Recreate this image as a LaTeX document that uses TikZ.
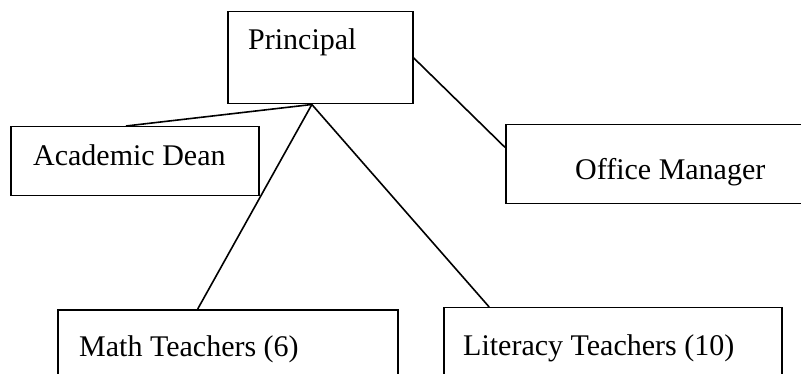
\documentclass[tikz,border=0pt]{standalone}
\usepackage{fontspec}
\setmainfont{Liberation Serif}
\usetikzlibrary{calc}
\begin{document}
\begin{tikzpicture}[x=1pt,y=-1pt,
  box/.style={draw=black,line width=1.5pt,rectangle,inner sep=0pt,anchor=north west},
  lbl/.style={anchor=base west,inner sep=0pt,font=\fontsize{30}{36}\selectfont},
  link/.style={draw=black,line width=1.6pt}]
  \clip (0,0) rectangle (801,374);
  \fill[white] (0,0) rectangle (801,374);

  % boxes (width and height set explicitly, top-left placed)
  \node[box,minimum width=185pt,minimum height=92pt] (principal) at (227,11) {};
  \node[box,minimum width=248pt,minimum height=69pt] (dean) at (10,126) {};
  \node[box,minimum width=300pt,minimum height=79pt] (office) at (505,124) {};
  \node[box,minimum width=340pt,minimum height=80pt] (math) at (57,309) {};
  \node[box,minimum width=338pt,minimum height=80pt] (literacy) at (443,307) {};

  % labels
  \node[lbl] (tprincipal) at (248,50) {Principal};
  \node[lbl] (tdean) at (33,166) {Academic Dean};
  \node[lbl] (toffice) at (575,180) {Office Manager};
  \node[lbl] (tmath) at (79,356) {Math Teachers (6)};
  \node[lbl] (tliteracy) at (463,355) {Literacy Teachers (10)};

  % connector end points on box edges
  \coordinate (hub) at ($(principal.south west)!0.455!(principal.south east)$);
  \coordinate (deanTop) at ($(dean.north west)!0.465!(dean.north east)$);
  \coordinate (mathTop) at ($(math.north west)!0.412!(math.north east)$);
  \coordinate (litTop) at ($(literacy.north west)!0.136!(literacy.north east)$);
  \coordinate (prRight) at ($(principal.north east)!0.5!(principal.south east)$);
  \coordinate (offLeft) at ($(office.north west)!0.29!(office.south west)$);

  % connectors
  \draw[link] (hub) -- (deanTop);
  \draw[link] (hub) -- (mathTop);
  \draw[link] (hub) -- (litTop);
  \draw[link] (prRight) -- (offLeft);
\end{tikzpicture}
\end{document}
